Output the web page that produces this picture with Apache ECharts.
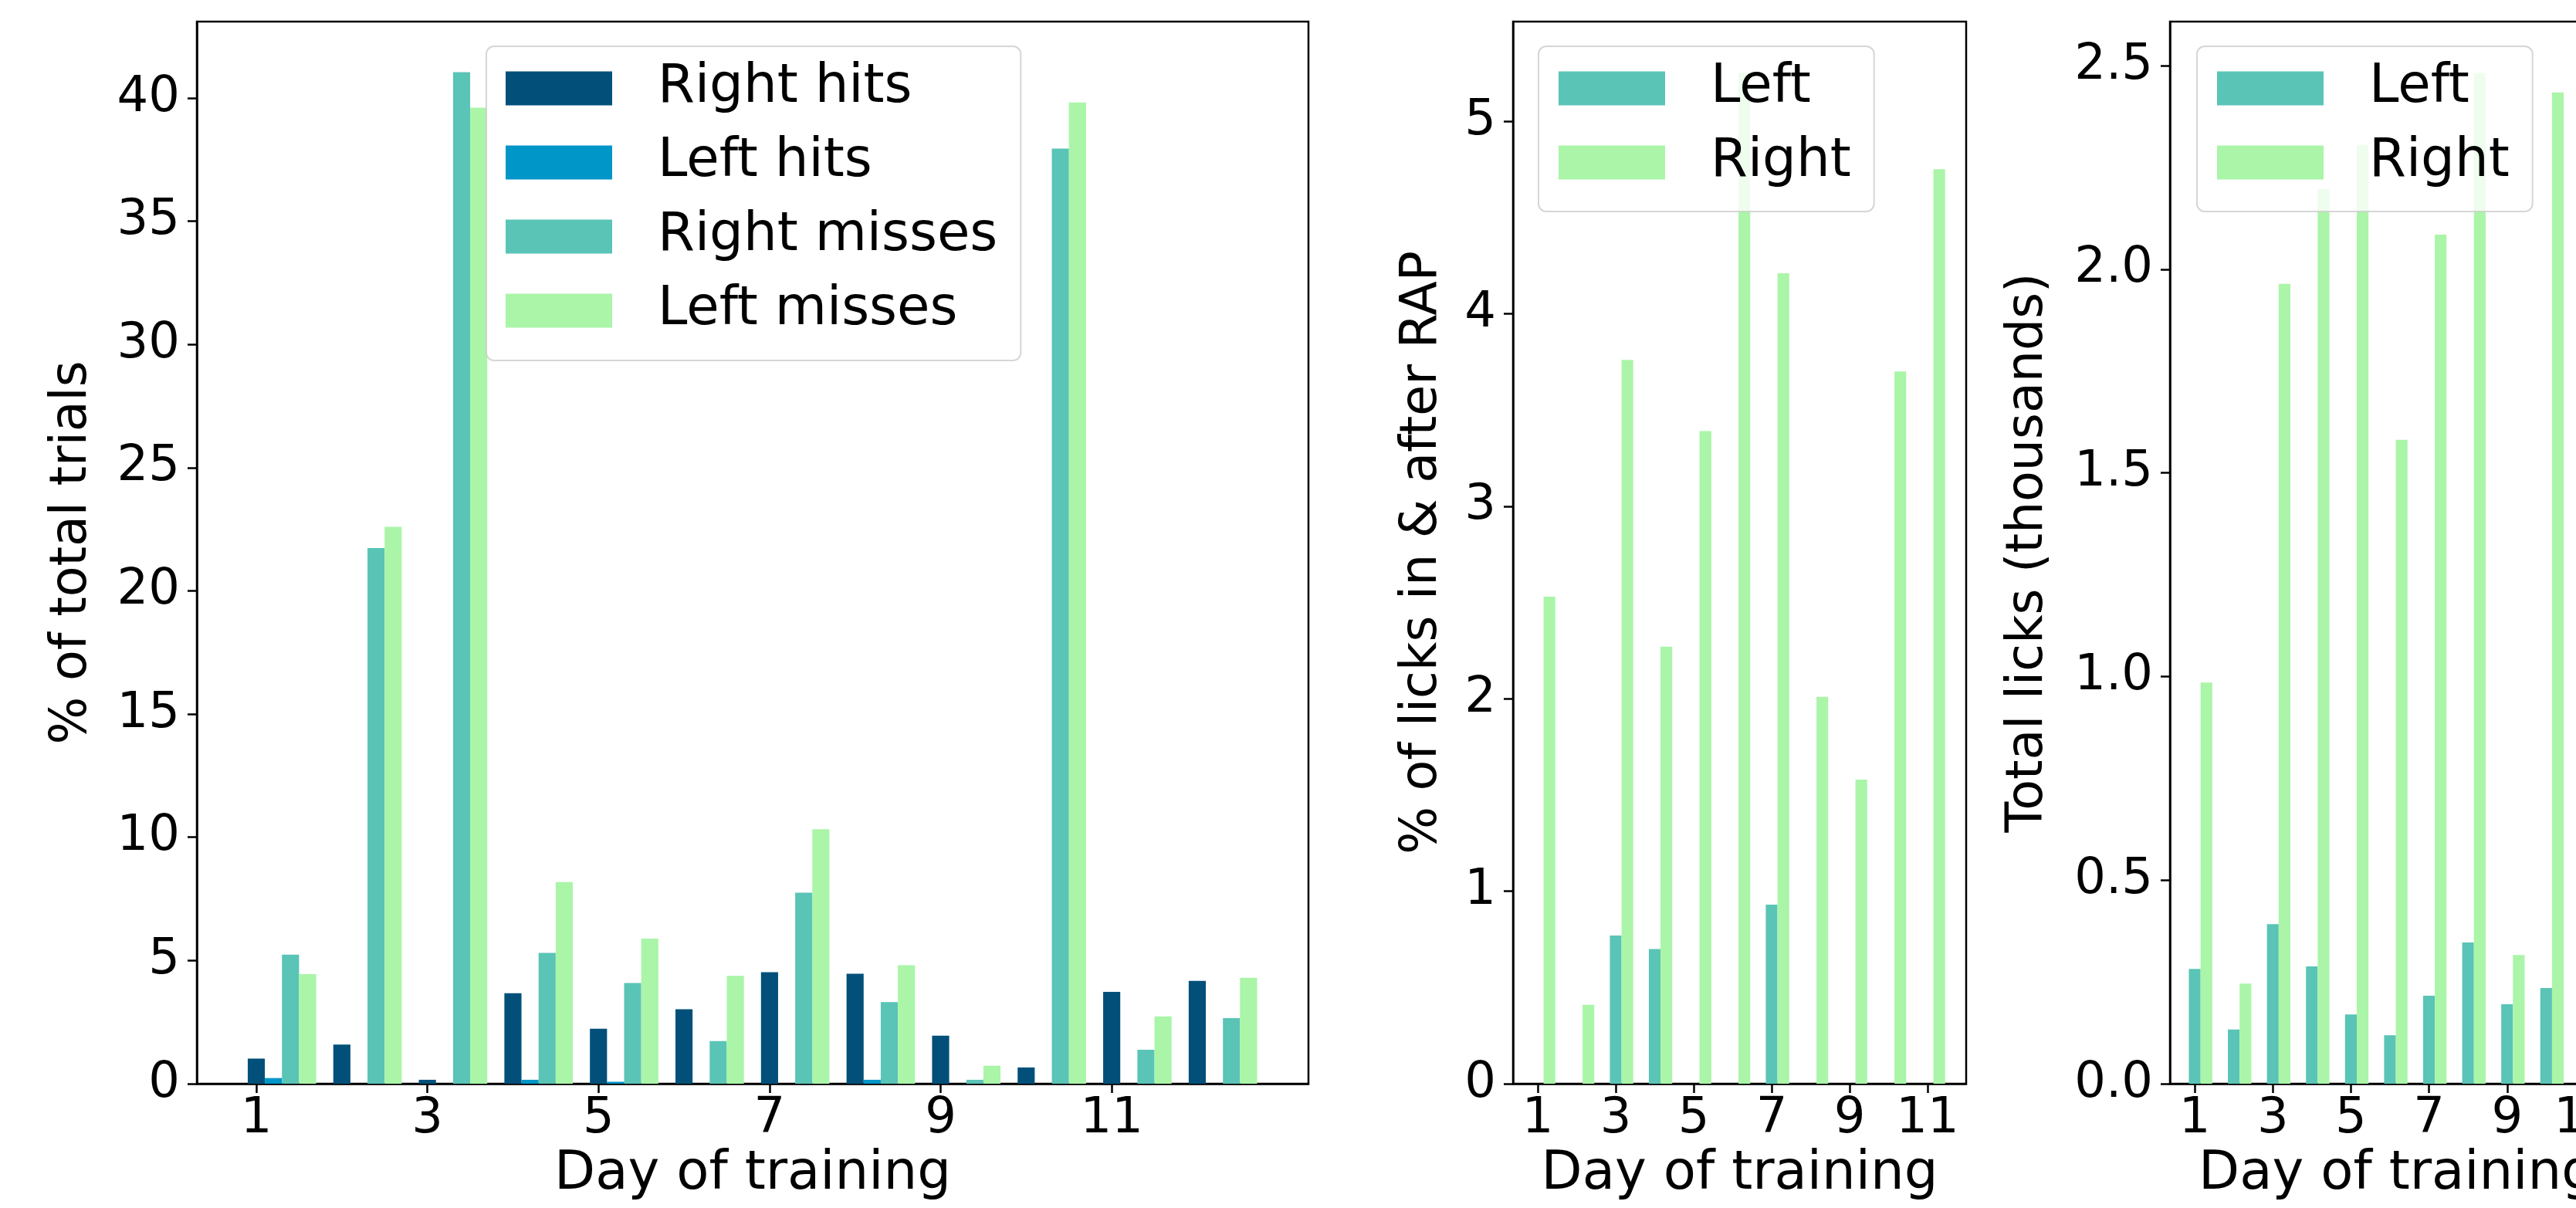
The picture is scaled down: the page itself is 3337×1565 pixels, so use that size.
<!DOCTYPE html>
<html>
<head>
<meta charset="utf-8">
<script src="https://cdn.jsdelivr.net/npm/echarts@6/dist/echarts.min.js"></script>
<style>
  html, body { margin: 0; padding: 0; background: #fff; }
  #chart { width: 3337px; height: 1565px; }
</style>
</head>
<body>
<div id="chart"></div>
<script>
// panel 1: % of total trials, days 1-12
const trialDays = [1, 2, 3, 4, 5, 6, 7, 8, 9, 10, 11, 12];
const rightHits = [1.02, 1.59, 0.16, 3.67, 2.23, 3.02, 4.53, 4.46, 1.95, 0.66, 3.73, 4.17];
const leftHits = [0.23, 0, 0, 0.16, 0.08, 0, 0, 0.16, 0, 0, 0, 0];
const rightMisses = [5.24, 21.74, 41.05, 5.31, 4.09, 1.73, 7.75, 3.31, 0.16, 37.95, 1.38, 2.66];
const leftMisses = [4.45, 22.6, 39.61, 8.18, 5.89, 4.38, 10.33, 4.81, 0.73, 39.82, 2.73, 4.30];

// panel 2: % of licks in & after RAP, days 1-11
const lickDays = [1, 2, 3, 4, 5, 6, 7, 8, 9, 10, 11];
const lickPctLeft = [0, 0, 0.77, 0.70, 0, 0, 0.93, 0, 0, 0, 0];
const lickPctRight = [2.53, 0.41, 3.76, 2.27, 3.39, 5.25, 4.21, 2.01, 1.58, 3.70, 4.75];

// panel 3: total licks (thousands), visible days 1-10
const totalDays = [1, 2, 3, 4, 5, 6, 7, 8, 9, 10];
const totalLeft = [0.282, 0.133, 0.392, 0.288, 0.170, 0.119, 0.216, 0.347, 0.195, 0.235];
const totalRight = [0.985, 0.246, 1.964, 2.197, 2.305, 1.581, 2.085, 2.481, 0.316, 2.434];

// tick labels
const dayTicks = [1, 3, 5, 7, 9, 11];
const trialTicks = [0, 5, 10, 15, 20, 25, 30, 35, 40];
const lickPctTicks = [0, 1, 2, 3, 4, 5];
const lickTotalTicks = [0, 0.5, 1, 1.5, 2, 2.5];

const FONT = 'DejaVu Sans';
const TICK_FS = 64;
const XNAME_FS = 69;
const YNAME_FS = 65;
const LEGEND_FS = 69;
const C_DARK = '#02507a';
const C_BLUE = '#0096c7';
const C_TEAL = '#5ac4b6';
const C_GREEN = '#aaf5a8';

// layout of the three axes boxes (px)
const grids = [
    { left: 255, top: 28, width: 1440, height: 1376, xmin: 0.305, xmax: 13.30 },
    { left: 1960, top: 28, width: 587, height: 1376, xmin: 0.366, xmax: 11.99 },
    { left: 2811, top: 28, width: 588, height: 1376, xmin: 0.366, xmax: 11.99 }
];

function pxPerDay(g) {
    return g.width / (g.xmax - g.xmin);
}

function toPoints(xs, ys, shift) {
    return ys.map((v, i) => [xs[i] + shift, v]);
}

function barSeries(name, grid, xs, ys, shift, width, color) {
    return {
        name: name,
        type: 'bar',
        xAxisIndex: grid,
        yAxisIndex: grid,
        data: toPoints(xs, ys, shift),
        barWidth: pxPerDay(grids[grid]) * width,
        barGap: '-100%',
        itemStyle: { color: color },
        emphasis: { disabled: true }
    };
}

function xAxisFor(i) {
    const g = grids[i];
    return {
        type: 'value',
        gridIndex: i,
        min: g.xmin,
        max: g.xmax,
        name: 'Day of training',
        nameLocation: 'middle',
        nameGap: 84,
        nameTextStyle: { fontFamily: FONT, fontSize: XNAME_FS, color: '#000' },
        axisLine: { show: true, lineStyle: { color: '#000', width: 2.5 } },
        axisTick: { show: true, customValues: dayTicks, length: 12, lineStyle: { color: '#000', width: 2.5 } },
        axisLabel: { customValues: dayTicks, margin: 14, fontFamily: FONT, fontSize: TICK_FS, color: '#000' },
        splitLine: { show: false }
    };
}

function yAxisFor(i, max, ticks, name, gap, digits) {
    return {
        type: 'value',
        gridIndex: i,
        min: 0,
        max: max,
        name: name,
        nameLocation: 'middle',
        nameRotate: 90,
        nameGap: gap,
        nameTextStyle: { fontFamily: FONT, fontSize: YNAME_FS, color: '#000' },
        axisLine: { show: true, lineStyle: { color: '#000', width: 2.5 } },
        axisTick: { show: true, customValues: ticks, length: 12, lineStyle: { color: '#000', width: 2.5 } },
        axisLabel: {
            customValues: ticks,
            margin: 22,
            fontFamily: FONT, fontSize: TICK_FS, color: '#000',
            formatter: v => v.toFixed(digits)
        },
        splitLine: { show: false }
    };
}

function legendFor(names, left, padding) {
    return {
        data: names,
        orient: 'vertical',
        left: left,
        top: 60,
        padding: padding,
        itemWidth: 138,
        itemHeight: 44,
        itemGap: 27,
        icon: 'rect',
        selectedMode: false,
        backgroundColor: 'rgba(255,255,255,0.8)',
        borderColor: 'rgba(204,204,204,0.8)',
        borderWidth: 2,
        borderRadius: 10,
        textStyle: { fontFamily: FONT, fontSize: LEGEND_FS, lineHeight: 64, color: '#000', padding: [0, 0, 0, 54] }
    };
}

const chart = echarts.init(document.getElementById('chart'), null, { renderer: 'canvas' });

chart.setOption({
    animation: false,
    backgroundColor: '#fff',
    grid: grids.map(g => ({
        left: g.left, top: g.top, width: g.width, height: g.height,
        containLabel: false,
        outerBoundsMode: 'none',
        show: true, borderColor: '#000', borderWidth: 2.5, backgroundColor: 'transparent'
    })),
    xAxis: [xAxisFor(0), xAxisFor(1), xAxisFor(2)],
    yAxis: [
        yAxisFor(0, 43.10, trialTicks, '% of total trials', 128, 0),
        yAxisFor(1, 5.517, lickPctTicks, '% of licks in & after RAP', 84, 0),
        yAxisFor(2, 2.608, lickTotalTicks, 'Total licks (thousands)', 150, 1)
    ],
    legend: [
        legendFor(['Right hits', 'Left hits', 'Right misses', 'Left misses'], 630, [20, 30, 30, 25]),
        legendFor(['Left', 'Right'], 1993, [20, 30, 29, 26]),
        legendFor(['Left', 'Right'], 2846, [20, 30, 29, 26])
    ],
    series: [
        barSeries('Right hits', 0, trialDays, rightHits, 0, 0.2, C_DARK),
        barSeries('Left hits', 0, trialDays, leftHits, 0.2, 0.2, C_BLUE),
        barSeries('Right misses', 0, trialDays, rightMisses, 0.4, 0.2, C_TEAL),
        barSeries('Left misses', 0, trialDays, leftMisses, 0.6, 0.2, C_GREEN),
        barSeries('Left', 1, lickDays, lickPctLeft, 0, 0.3, C_TEAL),
        barSeries('Right', 1, lickDays, lickPctRight, 0.3, 0.3, C_GREEN),
        barSeries('Left', 2, totalDays, totalLeft, 0, 0.3, C_TEAL),
        barSeries('Right', 2, totalDays, totalRight, 0.3, 0.3, C_GREEN)
    ]
});
</script>
</body>
</html>
